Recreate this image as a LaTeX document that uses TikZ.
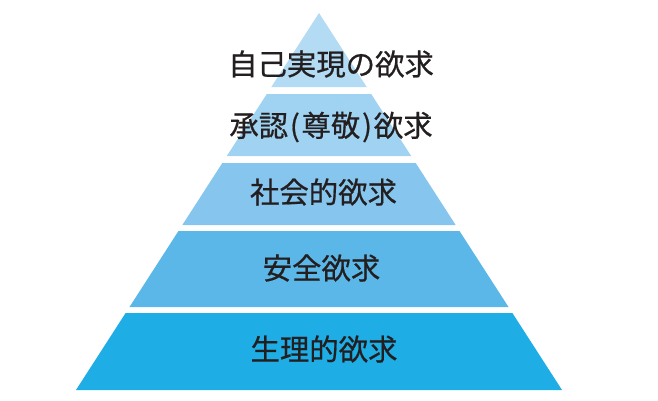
\documentclass[tikz,border=0pt]{standalone}
\usepackage{fontspec}
\usepackage{xcolor}
\usepackage{tikz}
\newfontfamily\jp[FakeBold=0.6]{Noto Sans CJK JP}
\definecolor{level1}{HTML}{B3DBF4}
\definecolor{level2}{HTML}{A0D2F1}
\definecolor{level3}{HTML}{85C5EE}
\definecolor{level4}{HTML}{5BB7E8}
\definecolor{level5}{HTML}{1EADE5}
\definecolor{ink}{HTML}{231F20}
\newcommand\level[6]{\fill[#4] ({319-0.6446*(#2-13)},#2) -- ({319+0.6446*(#2-13)},#2) -- ({319+0.6446*(#3-13)},#3) -- ({319-0.6446*(#3-13)},#3) -- cycle; \node[need] (#1) at (#5) {#6};}
\newcommand\paren[1]{\kern0.06em#1\kern0.06em}

\begin{document}
\begin{tikzpicture}[x=1bp,y=-1bp]
\tikzstyle{need}=[text=ink,font=\jp\fontsize{29.5}{31}\selectfont,inner sep=0pt]
\useasboundingbox (0,0) rectangle (658,400);
\level{self}{13}{87}{level1}{331,64}{自己実現の欲求}
\level{esteem}{94}{156}{level2}{331,127}{承認\paren{(}尊敬\paren{)}欲求}
\level{social}{163}{225}{level3}{323.5,192}{社会的欲求}
\level{safety}{231}{307}{level4}{321.5,268}{安全欲求}
\level{body}{313}{390}{level5}{324,349}{生理的欲求}
\end{tikzpicture}
\end{document}
